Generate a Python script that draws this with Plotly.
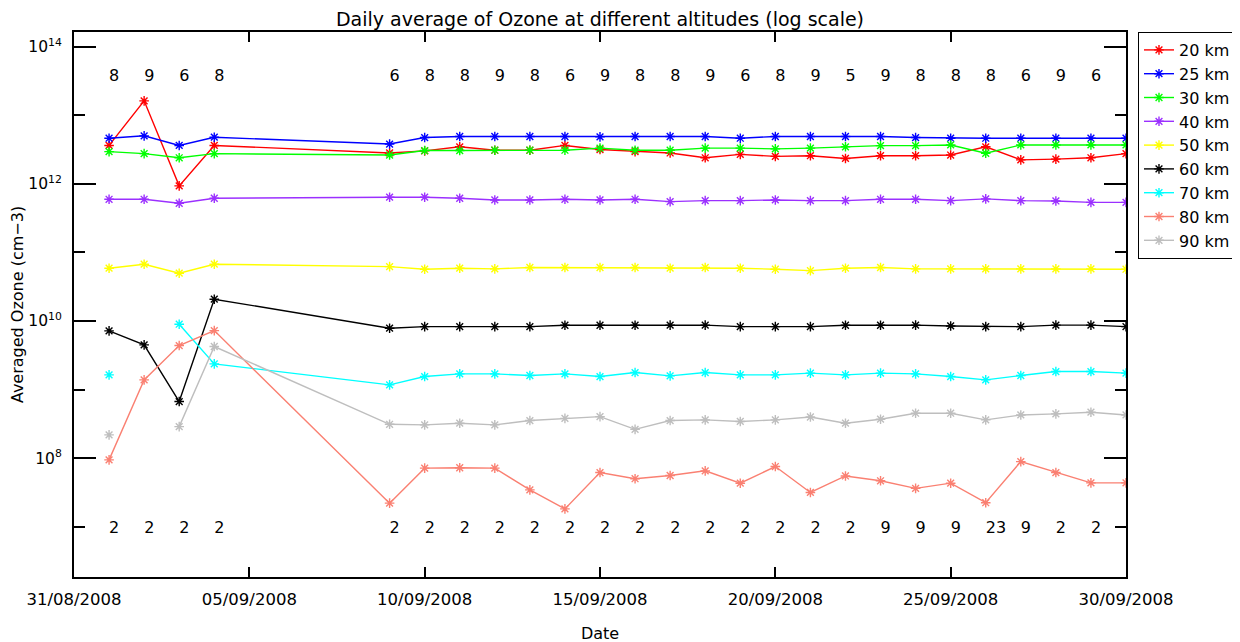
import plotly.graph_objects as go

dates = ["2008-09-01", "2008-09-02", "2008-09-03", "2008-09-04",
         "2008-09-09", "2008-09-10", "2008-09-11", "2008-09-12", "2008-09-13",
         "2008-09-14", "2008-09-15", "2008-09-16", "2008-09-17", "2008-09-18",
         "2008-09-19", "2008-09-20", "2008-09-21", "2008-09-22", "2008-09-23",
         "2008-09-24", "2008-09-25", "2008-09-26", "2008-09-27", "2008-09-28",
         "2008-09-29", "2008-09-30"]

# log10 of averaged ozone (cm-3)
log_20km = [12.56, 13.21, 11.97, 12.56, 12.45, 12.48, 12.54, 12.49, 12.49, 12.56,
            12.50, 12.47, 12.45, 12.38, 12.43, 12.40, 12.41, 12.37, 12.41, 12.41,
            12.42, 12.54, 12.35, 12.36, 12.38, 12.44]
log_25km = [12.665, 12.70, 12.56, 12.68, 12.58, 12.675, 12.69, 12.69, 12.69, 12.69,
            12.685, 12.69, 12.69, 12.69, 12.665, 12.69, 12.69, 12.69, 12.69, 12.675,
            12.665, 12.665, 12.665, 12.665, 12.665, 12.665]
log_30km = [12.47, 12.44, 12.38, 12.44, 12.42, 12.485, 12.485, 12.49, 12.49, 12.49,
            12.52, 12.49, 12.49, 12.52, 12.52, 12.51, 12.52, 12.54, 12.557, 12.557,
            12.567, 12.446, 12.567, 12.567, 12.567, 12.567]
log_40km = [11.775, 11.775, 11.717, 11.79, 11.805, 11.805, 11.79, 11.765, 11.765, 11.775,
            11.765, 11.775, 11.74, 11.755, 11.755, 11.765, 11.755, 11.755, 11.775, 11.775,
            11.755, 11.78, 11.755, 11.75, 11.73, 11.73]
log_50km = [10.77, 10.828, 10.697, 10.828, 10.793, 10.755, 10.77, 10.76, 10.78, 10.78,
            10.78, 10.78, 10.77, 10.78, 10.77, 10.755, 10.735, 10.77, 10.78, 10.76,
            10.76, 10.76, 10.76, 10.76, 10.76, 10.755]
log_60km = [9.856, 9.652, 8.825, 10.318, 9.895, 9.918, 9.918, 9.918, 9.918, 9.938,
            9.938, 9.938, 9.94, 9.94, 9.918, 9.918, 9.918, 9.938, 9.938, 9.94,
            9.928, 9.918, 9.918, 9.94, 9.94, 9.918]
log_70km = [9.214, None, 9.953, 9.375, 9.068, 9.19, 9.229, 9.229, 9.205, 9.229,
            9.19, 9.248, 9.20, 9.248, 9.214, 9.214, 9.24, 9.214, 9.24, 9.229,
            9.19, 9.141, 9.205, 9.263, 9.263, 9.24]
log_80km = [7.975, 9.141, 9.642, 9.86, 7.344, 7.854, 7.86, 7.854, 7.538, 7.26,
            7.79, 7.70, 7.747, 7.815, 7.635, 7.878, 7.50, 7.74, 7.67, 7.56,
            7.635, 7.35, 7.95, 7.79, 7.64, 7.64]
log_90km = [8.34, None, 8.46, 9.628, 8.494, 8.485, 8.51, 8.485, 8.548, 8.58,
            8.606, 8.42, 8.548, 8.558, 8.535, 8.558, 8.60, 8.51, 8.568, 8.655,
            8.655, 8.558, 8.63, 8.645, 8.67, 8.63]

series_names = ["20 km", "25 km", "30 km", "40 km", "50 km", "60 km", "70 km", "80 km", "90 km"]
series_logs = [log_20km, log_25km, log_30km, log_40km, log_50km, log_60km, log_70km, log_80km, log_90km]
series_colors = ["#ff0000", "#0000ff", "#00ff00", "#9b30ff", "#ffff00", "#000000",
                 "#00ffff", "#fa8072", "#bebebe"]

count_dates = dates[:-1]
top_counts = ["8", "9", "6", "8", "6", "8", "8", "9", "8", "6", "9", "8", "8", "9",
              "6", "8", "9", "5", "9", "8", "8", "8", "6", "9", "6"]
bottom_counts = ["2", "2", "2", "2", "2", "2", "2", "2", "2", "2", "2", "2", "2", "2",
                 "2", "2", "2", "2", "9", "9", "9", "23", "9", "2", "2"]
top_label_level = 10 ** 13.56
bottom_label_level = 10 ** 6.96

x_tickvals = ["2008-08-31", "2008-09-05", "2008-09-10", "2008-09-15",
              "2008-09-20", "2008-09-25", "2008-09-30"]
y_tickvals = [1e8, 1e10, 1e12, 1e14]
y_ticktext = ["10<sup>8</sup>", "10<sup>10</sup>", "10<sup>12</sup>", "10<sup>14</sup>"]
y_minorvals = [1e7, 1e9, 1e11, 1e13]

FONT = "DejaVu Sans"
fig = go.Figure()

for name, logs, color in zip(series_names, series_logs, series_colors):
    yvals = [None if v is None else 10 ** v for v in logs]
    fig.add_trace(go.Scatter(
        x=dates, y=yvals, name=name, mode="lines+markers",
        connectgaps=False,
        line=dict(color=color, width=1.4),
        marker=dict(symbol="asterisk-open", size=8, color=color,
                    line=dict(color=color, width=1.4)),
    ))

fig.add_trace(go.Scatter(
    x=count_dates, y=[top_label_level] * len(count_dates), mode="text",
    text=top_counts, textposition="middle right", showlegend=False,
    textfont=dict(family=FONT, size=16, color="black"), hoverinfo="skip"))
fig.add_trace(go.Scatter(
    x=count_dates, y=[bottom_label_level] * len(count_dates), mode="text",
    text=bottom_counts, textposition="middle right", showlegend=False,
    textfont=dict(family=FONT, size=16, color="black"), hoverinfo="skip"))

fig.update_layout(
    width=1240, height=642,
    margin=dict(l=66, r=120, t=24, b=73),
    paper_bgcolor="white", plot_bgcolor="white",
    font=dict(family=FONT, size=16, color="black"),
    title=dict(text="Daily average of Ozone at different altitudes (log scale)",
               xref="paper", x=0.5, xanchor="center", y=0.983, yanchor="middle",
               font=dict(family=FONT, size=19, color="black")),
    legend=dict(x=1.0114, xanchor="left", y=1.0, yanchor="top",
                bordercolor="black", borderwidth=1, bgcolor="white",
                font=dict(family=FONT, size=16), tracegroupgap=0),
    showlegend=True,
)

fig.update_xaxes(
    type="date", range=["2008-08-31", "2008-09-30"],
    tickvals=x_tickvals, tickformat="%d/%m/%Y",
    ticks="inside", ticklen=10, tickwidth=2, tickcolor="black",
    showline=True, linecolor="black", linewidth=2, mirror="ticks",
    showgrid=False, zeroline=False, ticklabelstandoff=6, automargin=False,
    tickfont=dict(family=FONT, size=16.5),
    title=dict(text="Date", font=dict(family=FONT, size=16), standoff=20),
)
fig.update_yaxes(
    type="log", range=[6.267, 14.214],
    tickvals=y_tickvals, ticktext=y_ticktext,
    ticks="inside", ticklen=22, tickwidth=2, tickcolor="black",
    minor=dict(tickvals=y_minorvals, ticks="inside", ticklen=11, tickwidth=2,
               tickcolor="black", showgrid=False),
    showline=True, linecolor="black", linewidth=2, mirror="ticks",
    showgrid=False, zeroline=False, ticklabelstandoff=7, automargin=False,
    tickfont=dict(family=FONT, size=15.5),
    title=dict(text="Averaged Ozone (cm\u22123)", font=dict(family=FONT, size=16), standoff=2),
)

fig.write_html("out.html")
